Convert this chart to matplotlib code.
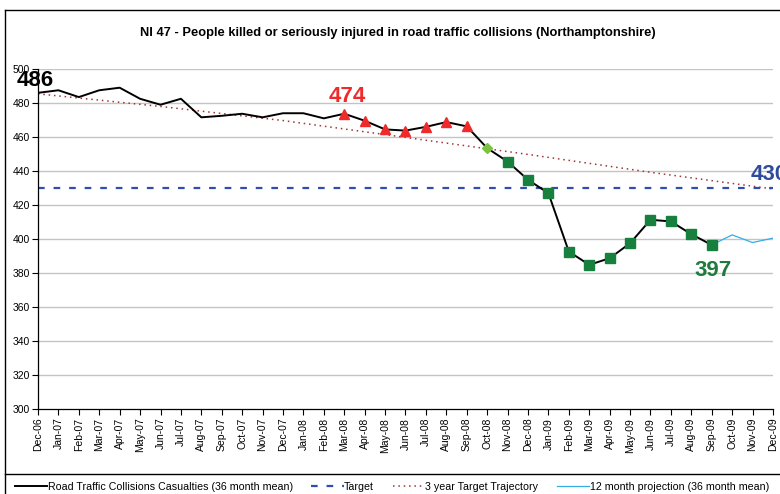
import matplotlib
matplotlib.use('Agg')
import matplotlib.pyplot as plt
from matplotlib.lines import Line2D
from matplotlib import font_manager

# ---------------- data ----------------
months = ['Dec-06', 'Jan-07', 'Feb-07', 'Mar-07', 'Apr-07', 'May-07', 'Jun-07', 'Jul-07',
          'Aug-07', 'Sep-07', 'Oct-07', 'Nov-07', 'Dec-07', 'Jan-08', 'Feb-08', 'Mar-08',
          'Apr-08', 'May-08', 'Jun-08', 'Jul-08', 'Aug-08', 'Sep-08', 'Oct-08', 'Nov-08',
          'Dec-08', 'Jan-09', 'Feb-09', 'Mar-09', 'Apr-09', 'May-09', 'Jun-09', 'Jul-09',
          'Aug-09', 'Sep-09', 'Oct-09', 'Nov-09', 'Dec-09']

casualty_months = months[:34]  # Dec-06 .. Sep-09
casualties = [486, 487.5, 483.5, 487.5, 489, 482.5, 479, 482.5,
              471.6, 472.5, 473.7, 471.6, 474, 474, 471, 473.7,
              469.6, 464.5, 463.8, 466, 468.8, 466.3, 453.5, 445.6,
              434.9, 427, 392.7, 384.9, 388.8, 397.6, 411.4, 410.4,
              402.9, 396.6]

projection_months = ['Sep-09', 'Oct-09', 'Nov-09', 'Dec-09']
projection = [396.6, 402.5, 398, 400.6]

target_value = 430

trajectory_months = ['Dec-06', 'Jun-07', 'Dec-07', 'Jun-08', 'Dec-08', 'Jun-09', 'Dec-09']
trajectory = [485.4, 478, 469.7, 459.8, 449.8, 439.3, 429.5]

triangle_months = ['Mar-08', 'Apr-08', 'May-08', 'Jun-08', 'Jul-08', 'Aug-08', 'Sep-08']
diamond_months = ['Oct-08']
square_months = ['Nov-08', 'Dec-08', 'Jan-09', 'Feb-09', 'Mar-09', 'Apr-09', 'May-09',
                 'Jun-09', 'Jul-09', 'Aug-09', 'Sep-09']

y_ticks = [300, 320, 340, 360, 380, 400, 420, 440, 460, 480, 500]

title = 'NI 47 - People killed or seriously injured in road traffic collisions (Northamptonshire)'
legend_labels = ['Road Traffic Collisions Casualties (36 month mean)', 'Target',
                 '3 year Target Trajectory', '12 month projection (36 month mean)']

# ---------------- style ----------------
plt.rcParams['font.family'] = ['Liberation Sans', 'DejaVu Sans']
names = {f.name for f in font_manager.fontManager.ttflist}
narrow = 'Liberation Sans Narrow' in names
title_family = ['Liberation Sans Narrow', 'Liberation Sans'] if narrow else ['Liberation Sans']
title_size = 10 if narrow else 9.3

idx = {m: i for i, m in enumerate(months)}
val = dict(zip(casualty_months, casualties))

fig = plt.figure(figsize=(7.8, 4.94), dpi=100)
ax = fig.add_axes([38 / 780, 1 - 409.3 / 494, (773 - 38) / 780, (409.3 - 69) / 494])

# frame lines (figure coordinates)
W, H = 780.0, 494.0
fig.add_artist(Line2D([5 / W, 5 / W], [0, 1 - 10 / H], color='black', lw=1.0, transform=fig.transFigure))
fig.add_artist(Line2D([5 / W, 1.01], [1 - 10 / H, 1 - 10 / H], color='black', lw=1.0, transform=fig.transFigure))
fig.add_artist(Line2D([5 / W, 1.01], [1 - 473.5 / H, 1 - 473.5 / H], color='black', lw=1.0, transform=fig.transFigure))

# grid
for yv in y_ticks[1:]:
    ax.axhline(yv, color='#c4c4c4', lw=1.0, zorder=0)

# series
x_cas = [idx[m] for m in casualty_months]
ax.plot([idx[m] for m in trajectory_months], trajectory, color='#a0343a', lw=1.1,
        linestyle=(0, (1, 2.5)), zorder=2)
ax.axhline(target_value, color='#2f4fb0', lw=1.6, linestyle=(0, (3, 4)), zorder=2)
ax.plot(x_cas, casualties, color='black', lw=1.4, zorder=3)
ax.plot([idx[m] for m in projection_months], projection, color='#35aee6', lw=0.9, zorder=3)

ax.plot([idx[m] for m in triangle_months], [val[m] for m in triangle_months], linestyle='none',
        marker='^', markersize=7.5, color='#ee2a2a', zorder=4)
ax.plot([idx[m] for m in diamond_months], [val[m] for m in diamond_months], linestyle='none',
        marker='D', markersize=5.5, color='#7cc242', zorder=4)
ax.plot([idx[m] for m in square_months], [val[m] for m in square_months], linestyle='none',
        marker='s', markersize=6.5, color='#17803e', zorder=4)

# annotations
ax.text(-0.16, 493.4, '486', fontsize=16, fontweight='bold', color='black',
        ha='center', va='center', clip_on=False, zorder=5)
ax.text(15.17, 483.6, '474', fontsize=16, fontweight='bold', color='#ee2a2a',
        ha='center', va='center', zorder=5)
ax.text(34.9, 438.2, '430', fontsize=16, fontweight='bold', color='#2f4b9b',
        ha='left', va='center', clip_on=False, zorder=5)
ax.text(33.07, 381.4, '397', fontsize=16, fontweight='bold', color='#1e7b3c',
        ha='center', va='center', zorder=5)

# axes
ax.set_xlim(0, 36)
ax.set_ylim(300, 500)
ax.set_xticks(range(len(months)))
ax.set_xticklabels(months, rotation=90, fontsize=7.5)
ax.set_yticks(y_ticks)
ax.set_yticklabels([str(v) for v in y_ticks], fontsize=7.5)
ax.tick_params(axis='x', direction='out', length=4, width=0.8, pad=2)
ax.tick_params(axis='y', direction='out', length=4, width=0.8, pad=2)
for s in ['top', 'right']:
    ax.spines[s].set_visible(False)
for s in ['left', 'bottom']:
    ax.spines[s].set_linewidth(0.9)
ax.set_facecolor('white')

fig.text(398 / W, 1 - 33 / H, title, fontsize=title_size, fontweight='bold', ha='center',
         va='center', family=title_family)

# legend
handles = [
    Line2D([], [], color='black', lw=1.4),
    Line2D([], [], color='#2f4fb0', lw=1.6, linestyle=(0, (3, 4))),
    Line2D([], [], color='#a0343a', lw=1.1, linestyle=(0, (1, 2.5))),
    Line2D([], [], color='#35aee6', lw=0.9),
]
fig.legend(handles, legend_labels, loc='center left', bbox_to_anchor=(15 / W, 1 - 487 / H),
           ncol=4, frameon=False, fontsize=7.7, handlelength=3.0, handletextpad=0.05,
           columnspacing=1.75, borderaxespad=0, borderpad=0)

fig.savefig('out.png', dpi=100)
